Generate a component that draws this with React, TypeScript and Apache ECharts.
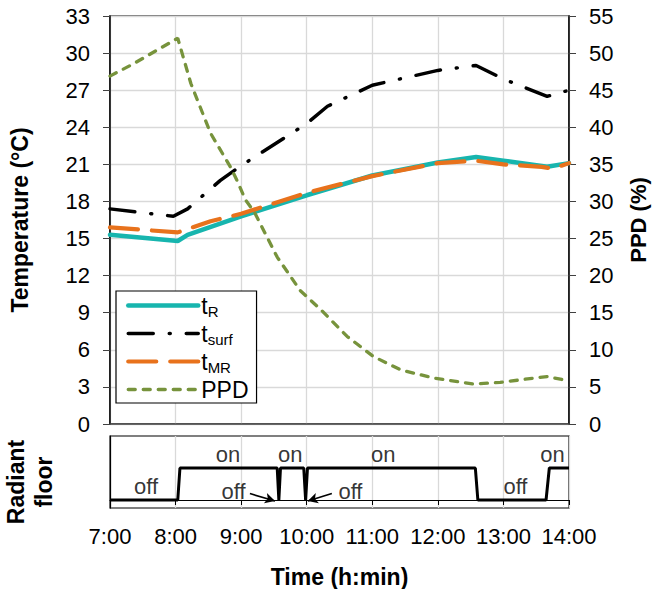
import React, { useEffect, useRef } from "react";
import * as echarts from "echarts";

// time in minutes after 7:00
const tRTime = [0, 62, 71, 120, 180, 240, 300, 335, 360, 400, 420];
const tRVal = [15.3, 14.8, 15.3, 16.8, 18.5, 20.1, 21.15, 21.6, 21.3, 20.8, 21.1];

const tMRTime = [0, 62, 92, 120, 180, 240, 300, 335, 360, 395, 405, 420];
const tMRVal = [15.9, 15.5, 16.4, 17.0, 18.7, 20.05, 21.1, 21.3, 21.0, 20.8, 20.65, 21.1];

const tSurfTime = [0, 58, 71, 80, 101, 120, 180, 199, 240, 300, 335, 360, 400, 420];
const tSurfVal = [17.4, 16.8, 17.4, 18.1, 19.7, 20.9, 24.3, 25.7, 27.4, 28.6, 29.0, 27.9, 26.5, 27.0];

const ppdTime = [0, 22, 43, 62, 74, 92, 110, 116, 124, 132, 153, 174, 193, 217, 241, 266, 296, 332, 357, 378, 400, 420];
const ppdVal = [46.9, 48.6, 50.4, 52.0, 45.9, 39.2, 34.7, 32.9, 30.2, 28.6, 22.5, 18.0, 15.4, 11.8, 9.1, 7.3, 6.2, 5.4, 5.6, 6.0, 6.4, 5.8];

const floorTime = [0, 62, 64, 153, 154.5, 156, 177.3, 179, 180.7, 334.3, 336.6, 399, 402, 420];
const floorState = [0, 0, 1, 1, 0, 1, 1, 0, 1, 1, 0, 0, 1, 1];

const stateLabels = [
  { t: 33, v: 0.42, text: "off" },
  { t: 108, v: 1.43, text: "on" },
  { t: 165, v: 1.43, text: "on" },
  { t: 250, v: 1.43, text: "on" },
  { t: 405, v: 1.43, text: "on" },
  { t: 113, v: 0.26, text: "off" },
  { t: 220, v: 0.26, text: "off" },
  { t: 371, v: 0.42, text: "off" },
];
const arrows = [
  { from: [128, 0.2], to: [151, -0.03] },
  { from: [203, 0.2], to: [181, -0.03] },
];

const tempTicks = { min: 0, max: 33, interval: 3 };
const ppdTicks = { min: 0, max: 55, interval: 5 };
const timeTicks = { min: 0, max: 420, interval: 60 };

const FONT = "Liberation Sans";

const zip = (a: number[], b: number[]) => a.map((x, i) => [x, b[i]]);

const STYLES = {
  tR: { color: "#17b5ae", width: 4.5, type: "solid" as any },
  tsurf: { color: "#000", width: 3.5, type: [25, 16, 1, 16] },
  tMR: { color: "#e8721c", width: 4.2, type: [28, 14] },
  PPD: { color: "#77933c", width: 3.3, type: [7, 8] },
};

export default function App() {
  const ref = useRef<HTMLDivElement>(null);
  useEffect(() => {
    if (!ref.current) return;
    const chart = echarts.init(ref.current, null, { renderer: "svg" });
    const labelFmt = (v: number) => `${7 + v / 60}:00`;
    const legendNames: Record<string, string> = {
      tR: "{t|t}{s|R}",
      tsurf: "{t|t}{s|surf}",
      tMR: "{t|t}{s|MR}",
      PPD: "{t|PPD}",
    };
    const titleStyle = { fontSize: 23, fontWeight: "bold", color: "#000", fontFamily: FONT };
    const lineSeries = (name: keyof typeof STYLES, t: number[], v: number[], yIdx: number, z: number) => ({
      name,
      type: "line",
      xAxisIndex: 0,
      yAxisIndex: yIdx,
      symbol: "none",
      data: zip(t, v),
      lineStyle: { ...STYLES[name], cap: "round" },
      itemStyle: { color: STYLES[name].color },
      z,
    });
    chart.setOption({
      animation: false,
      textStyle: { fontFamily: FONT },
      grid: [
        { left: 110, top: 16, width: 459, height: 408, show: true, borderColor: "#404040", borderWidth: 1.5, outerBoundsMode: "none", containLabel: false },
        { left: 110, top: 436, width: 459, height: 72, show: true, borderColor: "#000", borderWidth: 1.2, outerBoundsMode: "none", containLabel: false },
      ],
      graphic: [
        {
          type: "text",
          x: 30,
          y: 482,
          rotation: Math.PI / 2,
          style: {
            text: "Radiant\nfloor",
            align: "center",
            verticalAlign: "middle",
            fontSize: 23,
            fontWeight: "bold",
            fontFamily: FONT,
            lineHeight: 28,
            fill: "#000",
          },
        },
      ],
      legend: {
        left: 116,
        top: 291,
        orient: "vertical",
        itemWidth: 70,
        itemHeight: 14,
        itemGap: 3,
        padding: [3, 8, 2, 10],
        borderColor: "#000",
        borderWidth: 1.2,
        backgroundColor: "#fff",
        data: (["tR", "tsurf", "tMR", "PPD"] as const).map((n) => ({
          name: n,
          lineStyle: { ...STYLES[n], cap: "round" },
        })),
        formatter: (n: string) => legendNames[n],
        itemStyle: { opacity: 0 },
        textStyle: {
          fontFamily: FONT,
          color: "#000",
          rich: {
            t: { fontSize: 23, fontFamily: FONT, color: "#000", padding: [0, 0, 0, -2] },
            s: { fontSize: 15, fontFamily: FONT, color: "#000", padding: [12, 0, 0, 0] },
          },
        },
      },
      xAxis: [
        {
          type: "value",
          gridIndex: 0,
          ...timeTicks,
          axisLabel: { show: false },
          axisTick: { show: false },
          axisLine: { lineStyle: { color: "#404040", width: 1.5 } },
          splitLine: { lineStyle: { color: "#d9d9d9", width: 1.3 } },
        },
        {
          type: "value",
          gridIndex: 1,
          ...timeTicks,
          axisLabel: { formatter: labelFmt, fontSize: 22, color: "#000", margin: 17, fontFamily: FONT },
          axisTick: { show: true, length: 5, lineStyle: { color: "#000" } },
          axisLine: { lineStyle: { color: "#000", width: 1.2 } },
          splitLine: { lineStyle: { color: "#d9d9d9", width: 1.3 } },
          name: "Time (h:min)",
          nameLocation: "middle",
          nameGap: 57,
          nameTextStyle: titleStyle,
        },
      ],
      yAxis: [
        {
          type: "value",
          gridIndex: 0,
          ...tempTicks,
          axisLabel: { fontSize: 22, color: "#000", margin: 20, fontFamily: FONT },
          axisTick: { show: true, length: 7, lineStyle: { color: "#404040" } },
          axisLine: { show: true, lineStyle: { color: "#000", width: 1.5 } },
          splitLine: { lineStyle: { color: "#d9d9d9", width: 1.3 } },
          name: "Temperature (°C)",
          nameLocation: "middle",
          nameGap: 79,
          nameTextStyle: titleStyle,
        },
        {
          type: "value",
          gridIndex: 0,
          position: "right",
          ...ppdTicks,
          axisLabel: { fontSize: 22, color: "#000", margin: 20, fontFamily: FONT },
          axisTick: { show: true, length: 7, lineStyle: { color: "#404040" } },
          axisLine: { show: true, lineStyle: { color: "#000", width: 1.5 } },
          splitLine: { show: false },
          name: "PPD (%)",
          nameLocation: "middle",
          nameGap: 58,
          nameTextStyle: { ...titleStyle, fontSize: 22 },
        },
        {
          type: "value",
          gridIndex: 1,
          min: -0.25,
          max: 2,
          axisLabel: { show: false },
          axisTick: { show: false },
          axisLine: { show: true, lineStyle: { color: "#000", width: 1.2 } },
          splitLine: { show: false },
        },
      ],
      series: [
        lineSeries("tR", tRTime, tRVal, 0, 3),
        lineSeries("tsurf", tSurfTime, tSurfVal, 0, 4),
        lineSeries("tMR", tMRTime, tMRVal, 0, 5),
        lineSeries("PPD", ppdTime, ppdVal, 1, 6),
        {
          name: "floor",
          type: "line",
          xAxisIndex: 1,
          yAxisIndex: 2,
          symbol: "none",
          data: zip(floorTime, floorState),
          lineStyle: { color: "#000", width: 3 },
          itemStyle: { color: "#000" },
        },
        {
          name: "labels",
          type: "scatter",
          xAxisIndex: 1,
          yAxisIndex: 2,
          symbolSize: 0,
          data: stateLabels.map((d) => ({ value: [d.t, d.v], name: d.text })),
          label: {
            show: true,
            position: "inside",
            formatter: (p: any) => p.name,
            fontSize: 22,
            color: "#000",
            fontFamily: FONT,
          },
          markLine: {
            silent: true,
            symbol: ["none", "arrow"],
            symbolSize: [8, 10],
            label: { show: false },
            lineStyle: { color: "#000", width: 1.6, type: "solid" },
            data: arrows.map((a) => [{ coord: a.from }, { coord: a.to }]),
          },
        },
      ],
    });
    return () => chart.dispose();
  }, []);
  return <div ref={ref} style={{ position: "fixed", left: 0, top: 0, width: 653, height: 589, background: "#fff" }} />;
}
